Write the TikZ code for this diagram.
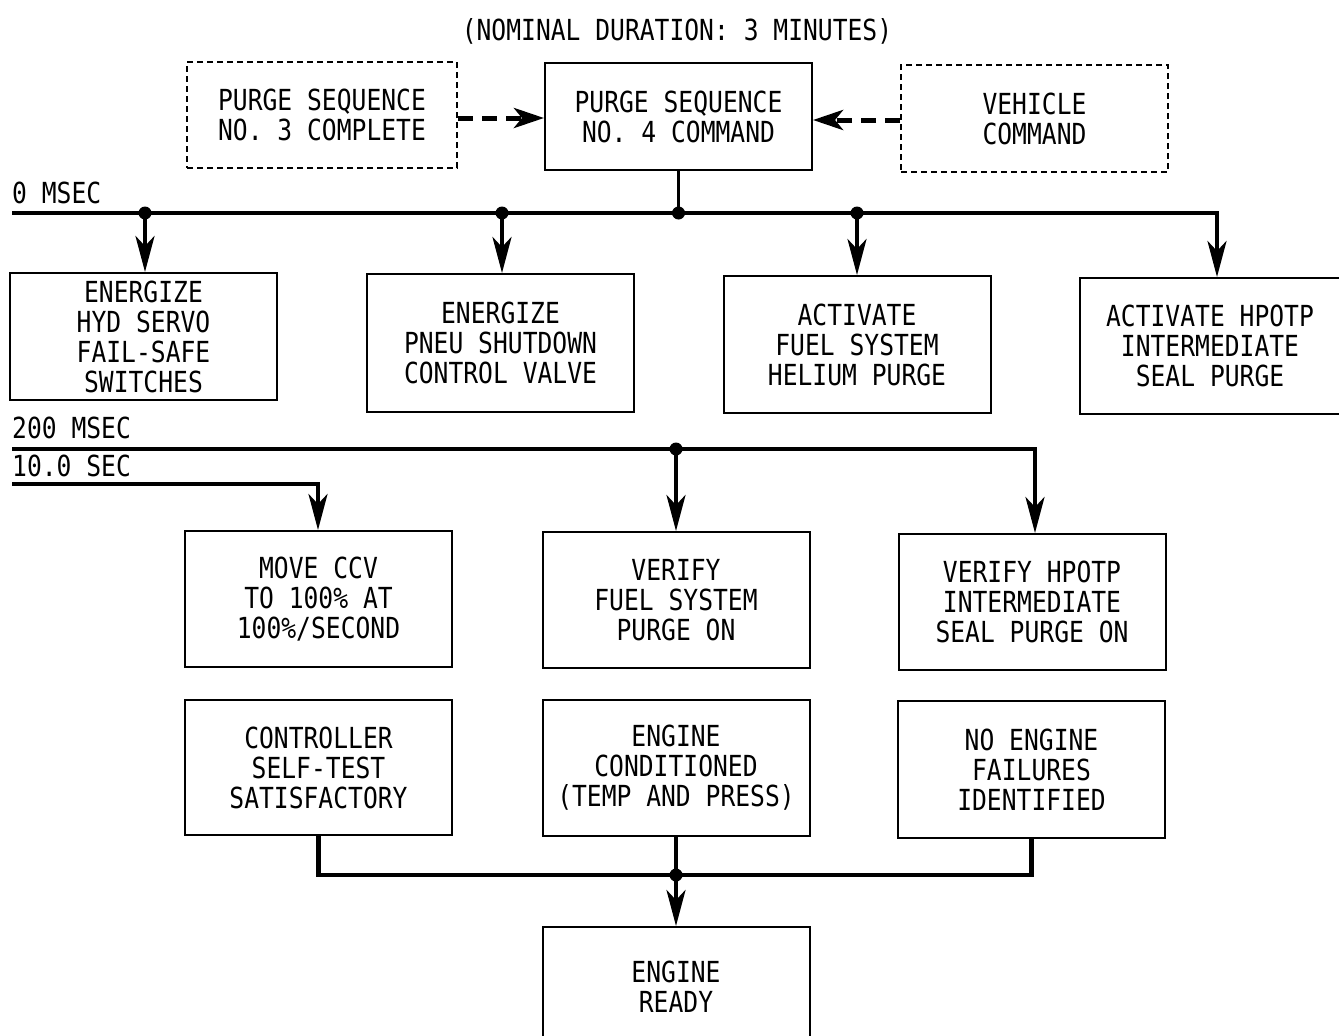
\documentclass[tikz,border=0pt]{standalone}
\usepackage{fontspec}
\setmonofont[FakeStretch=0.85]{DejaVu Sans Mono}
\usetikzlibrary{arrows.meta}
\begin{document}
\begin{tikzpicture}[x=1pt,y=-1pt,
  txt/.style={font=\ttfamily\fontsize{29}{30}\selectfont, align=center, inner sep=0pt},
  box/.style={txt, draw, line width=2pt, minimum width=267pt},
  dbox/.style={box, dash pattern=on 6pt off 4pt},
  bus/.style={line width=4.5pt, line join=miter},
  arr/.style={line width=4pt, -{Stealth[length=36pt,width=19pt,inset=10pt]}},
  darr/.style={line width=5pt, dash pattern=on 15pt off 9pt, -{Stealth[length=30pt,width=20pt,inset=8pt]}},
  lbl/.style={font=\ttfamily\fontsize{29}{30}\selectfont, inner sep=0pt}
]
\useasboundingbox (0,0) rectangle (1339,1036);
\clip (0,0) rectangle (1339,1036);

\node[lbl, anchor=base] (title) at (677,40) {(NOMINAL DURATION: 3 MINUTES)};

% top row
\node[dbox, minimum width=270pt, minimum height=106pt] (p3) at (322,115) {PURGE SEQUENCE\\NO. 3 COMPLETE};
\node[box, minimum height=107pt] (p4) at (678.5,116.5) {PURGE SEQUENCE\\NO. 4 COMMAND};
\node[dbox, minimum height=107pt] (vc) at (1034.5,118.5) {VEHICLE\\COMMAND};
\draw[darr] (p3.east |- 0,118) -- (p4.west |- 0,118);
\draw[darr] (vc.west |- 0,120) -- (p4.east |- 0,120);

% 0 msec bus
\node[lbl, anchor=base west] (l0) at (12,203) {0 MSEC};
\coordinate (s0) at (12,213);
\coordinate (e0) at (1217,213);
\coordinate (d1) at (145,213);
\coordinate (d2) at (502,213);
\coordinate (d3) at (678.5,213);
\coordinate (d4) at (857,213);

% row 2
\node[box, minimum height=127pt] (b1) at (143.5,336.5) {ENERGIZE\\HYD SERVO\\FAIL-SAFE\\SWITCHES};
\node[box, minimum height=138pt] (b2) at (500.5,343) {ENERGIZE\\PNEU SHUTDOWN\\CONTROL VALVE};
\node[box, minimum height=137pt] (b3) at (857,344.5) {ACTIVATE\\FUEL SYSTEM\\HELIUM PURGE};
\node[box, minimum width=260pt, minimum height=136pt] (b4) at (1210,346) {ACTIVATE HPOTP\\INTERMEDIATE\\SEAL PURGE};

\draw[line width=3.5pt] (p4.south) -- (d3);
\draw[bus] (s0) -- (e0) -- ++(0,20);
\draw[arr] (e0) -- (e0 |- b4.north);
\draw[arr] (d1) -- (d1 |- b1.north);
\draw[arr] (d2) -- (d2 |- b2.north);
\draw[arr] (d4) -- (d4 |- b3.north);
\foreach \d in {d1,d2,d3,d4} \fill (\d) circle (6.5pt);

% 200 msec bus
\node[lbl, anchor=base west] (l200) at (12,438) {200 MSEC};
\node[lbl, anchor=base west] (l10) at (12,476) {10.0 SEC};
\coordinate (s2) at (12,449);
\coordinate (e2) at (1035,449);
\coordinate (d5) at (676,449);
\coordinate (s3) at (12,484);
\coordinate (e3) at (318,484);

% row 3
\node[box, minimum height=136pt] (b5) at (318.5,599) {MOVE CCV\\TO 100\% AT\\100\%/SECOND};
\node[box, minimum height=136pt] (b6) at (676,600) {VERIFY\\FUEL SYSTEM\\PURGE ON};
\node[box, minimum height=136pt] (b7) at (1032,602) {VERIFY HPOTP\\INTERMEDIATE\\SEAL PURGE ON};

\draw[bus] (s2) -- (e2) -- ++(0,20);
\draw[arr] (e2) -- (e2 |- b7.north);
\draw[arr] (d5) -- (d5 |- b6.north);
\fill (d5) circle (6.5pt);
\draw[bus] (s3) -- (e3) -- ++(0,20);
\draw[arr] (e3) -- (e3 |- b5.north);

% row 4
\node[box, minimum height=135pt] (b8) at (318.5,767.5) {CONTROLLER\\SELF-TEST\\SATISFACTORY};
\node[box, minimum height=136pt] (b9) at (676,768) {ENGINE\\CONDITIONED\\(TEMP AND PRESS)};
\node[box, minimum height=137pt] (b10) at (1031.5,769.5) {NO ENGINE\\FAILURES\\IDENTIFIED};

% join
\coordinate (j) at (676,875);
\node[box, minimum height=120pt] (b11) at (676,987) {ENGINE\\READY};
\draw[bus] (b8.south) -- (b8.south |- j) -- (b10.south |- j) -- (b10.south);
\draw[line width=4pt] (b9.south) -- (j);
\draw[arr] (j) -- (j |- b11.north);
\fill (j) circle (6.5pt);
\end{tikzpicture}
\end{document}
